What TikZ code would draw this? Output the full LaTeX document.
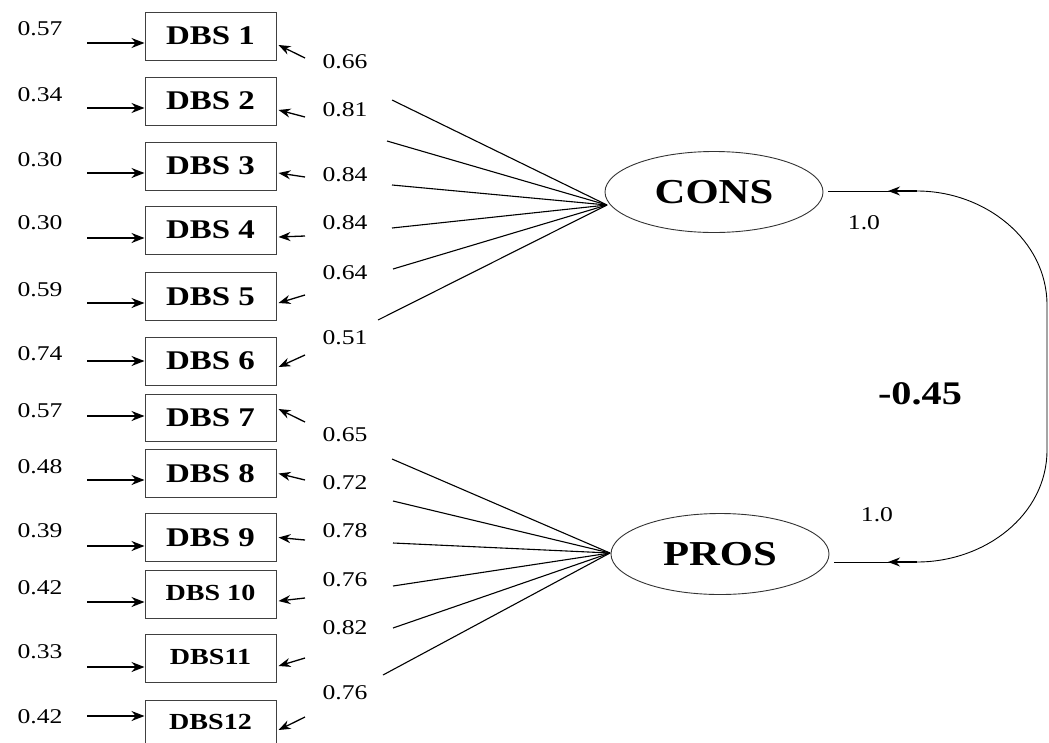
\documentclass[tikz,border=0pt]{standalone}
\usepackage{fontspec}
\setmainfont{Liberation Serif}[FakeStretch=1.22]
\usetikzlibrary{shapes.geometric,arrows.meta,calc}
\begin{document}
\begin{tikzpicture}[x=1pt,y=-1pt,
 box/.style={draw=black!75, line width=1pt, minimum width=131pt, minimum height=48pt, inner sep=0pt, font=\fontsize{27}{30}\selectfont\bfseries},
 sbox/.style={box, font=\fontsize{23}{26}\selectfont\bfseries},
 lat/.style={draw=black!80, ellipse, line width=0.9pt, minimum width=218pt, minimum height=81pt, inner sep=0pt, font=\fontsize{35}{40}\selectfont\bfseries},
 num/.style={font=\fontsize{21}{24}\selectfont, inner sep=0pt},
 arr/.style={-{Stealth[length=13pt,width=10pt]}, line width=1.6pt},
 sarr/.style={-{Stealth[length=12pt,width=9pt]}, line width=1.3pt},
 fan/.style={line width=1.1pt}]
\path[use as bounding box] (0,0) rectangle (1049,742);
\clip (0,0) rectangle (1049,742);

% indicator boxes
\node[box]  (b1)  at (210.5,36)    {DBS 1};
\node[box]  (b2)  at (210.5,101)   {DBS 2};
\node[box]  (b3)  at (210.5,166)   {DBS 3};
\node[box]  (b4)  at (210.5,230)   {DBS 4};
\node[box]  (b5)  at (210.5,296.5) {DBS 5};
\node[box]  (b6)  at (210.5,361)   {DBS 6};
\node[box, minimum height=47pt]  (b7)  at (210.5,417.5) {DBS 7};
\node[box]  (b8)  at (210.5,473.5) {DBS 8};
\node[box]  (b9)  at (210.5,537.5) {DBS 9};
\node[sbox] (b10) at (210.5,594.5) {\raisebox{4pt}{DBS 10}};
\node[sbox] (b11) at (210.5,658.5) {\raisebox{3pt}{DBS11}};
\node[sbox] (b12) at (210.5,724)   {\raisebox{4pt}{DBS12}};

% latent variables
\node[lat] (cons) at (714,192) {\raisebox{-6pt}{CONS}};
\node[lat] (pros) at (720,554) {PROS};

% error variances (left)
\foreach \i/\y/\v/\ay in {1/29/0.57/43, 2/95/0.34/108, 3/160/0.30/173, 4/223/0.30/238,
  5/290/0.59/303, 6/354/0.74/361, 7/411/0.57/416, 8/467/0.48/480,
  9/531/0.39/546, 10/588/0.42/602, 11/652/0.33/667, 12/717/0.42/716}{
  \node[num] (e\i) at (40,\y) {\v};
  \coordinate (l\i) at (87,\ay);
  \draw[arr] (l\i) -- (l\i -| b\i.west);
}

% loadings (right labels) and short arrows into boxes
\foreach \i/\y/\v/\sy/\dy in {1/62/0.66/58/-9, 2/110/0.81/117/-9, 3/175/0.84/177/-7, 4/223/0.84/236/-7,
  5/273/0.64/295/-6.5, 6/338/0.51/355/-6, 7/435/0.65/422/8.5, 8/483/0.72/480/0,
  9/531/0.78/540/0, 10/580/0.76/598/-6.5, 11/628/0.82/658/-7.5, 12/693/0.76/717/-6}{
  \node[num] (w\i) at (345,\y) {\v};
  \coordinate (r\i) at (305,\sy);
  \draw[sarr] (r\i) -- ([xshift=2pt,yshift=\dy pt]b\i.east);
}

% fan lines
\coordinate (capex) at (607,205);
\coordinate (papex) at (610,553);
\foreach \i/\x/\y in {1/392/100, 2/387/141, 3/392/185, 4/392/228, 5/393/269, 6/378/320}{
  \coordinate (fc\i) at (\x,\y);
  \draw[fan] (fc\i) -- (capex);
}
\foreach \i/\x/\y in {1/392/459, 2/393/501, 3/393/543, 4/393/586, 5/393/628, 6/383/675}{
  \coordinate (fp\i) at (\x,\y);
  \draw[fan] (fp\i) -- (papex);
}

% covariance
\coordinate (ca) at (917,191);
\coordinate (cah) at (888,191);
\coordinate (pa) at (917,562);
\coordinate (pah) at (888,562);
\draw[line width=0.9pt] ([xshift=5pt]ca -| cons.east) -- (ca);
\draw[line width=0.9pt] ([xshift=5pt]pa -| pros.east) -- (pa);
\draw[sarr] (ca) -- (cah);
\draw[sarr] (pa) -- (pah);
\draw[line width=0.9pt] (ca) .. controls (985,191) and (1047,240) .. (1047,305)
  -- (1047,450) .. controls (1047,515) and (985,562) .. (pa);

\node[num] (cl) at (864,223) {1.0};
\node[num] (pl) at (877,515) {1.0};
\node[font=\fontsize{33}{36}\selectfont\bfseries, inner sep=0pt] (cov) at (920,394) {-0.45};
\end{tikzpicture}
\end{document}
